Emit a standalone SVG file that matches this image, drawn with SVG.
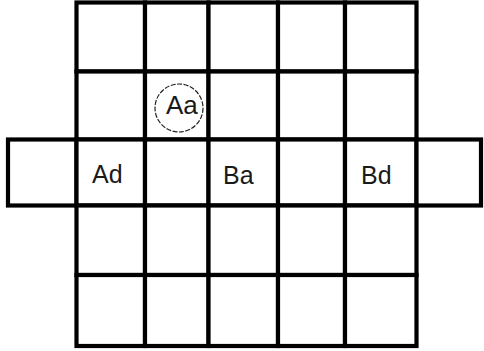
<svg xmlns="http://www.w3.org/2000/svg" width="484" height="351" viewBox="0 0 484 351">
<style>
.c{fill:#fff;stroke:#000;stroke-width:4.2}
.t{font-family:"Liberation Sans",Arial,sans-serif;font-size:25px;fill:#1a1a1a}
.ring{fill:none;stroke:#222;stroke-width:1.2;stroke-dasharray:5 1.5}
</style>
<rect width="484" height="351" fill="#fff"/>
<g id="r1c1"><rect class="c" x="76.5" y="2.5" width="68.5" height="69"/></g>
<g id="r1c2"><rect class="c" x="145" y="2.5" width="63.5" height="69"/></g>
<g id="r1c3"><rect class="c" x="208.5" y="2.5" width="69.5" height="69"/></g>
<g id="r1c4"><rect class="c" x="278" y="2.5" width="67" height="69"/></g>
<g id="r1c5"><rect class="c" x="345" y="2.5" width="71.5" height="69"/></g>
<g id="r2c1"><rect class="c" x="76.5" y="71.5" width="68.5" height="68"/></g>
<g id="r2c2"><rect class="c" x="145" y="71.5" width="63.5" height="68"/>
<circle class="ring" cx="179" cy="108" r="24"/>
<text class="t" x="166" y="114" style="font-size:26px">Aa</text></g>
<g id="r2c3"><rect class="c" x="208.5" y="71.5" width="69.5" height="68"/></g>
<g id="r2c4"><rect class="c" x="278" y="71.5" width="67" height="68"/></g>
<g id="r2c5"><rect class="c" x="345" y="71.5" width="71.5" height="68"/></g>
<g id="r3c0"><rect class="c" x="8" y="139.5" width="68.5" height="66"/></g>
<g id="r3c1"><rect class="c" x="76.5" y="139.5" width="68.5" height="66"/>
<text class="t" x="92" y="183">Ad</text></g>
<g id="r3c2"><rect class="c" x="145" y="139.5" width="63.5" height="66"/></g>
<g id="r3c3"><rect class="c" x="208.5" y="139.5" width="69.5" height="66"/>
<text class="t" x="223" y="184">Ba</text></g>
<g id="r3c4"><rect class="c" x="278" y="139.5" width="67" height="66"/></g>
<g id="r3c5"><rect class="c" x="345" y="139.5" width="71.5" height="66"/>
<text class="t" x="361" y="184">Bd</text></g>
<g id="r3c6"><rect class="c" x="416.5" y="139.5" width="64.5" height="66"/></g>
<g id="r4c1"><rect class="c" x="76.5" y="205.5" width="68.5" height="69.5"/></g>
<g id="r4c2"><rect class="c" x="145" y="205.5" width="63.5" height="69.5"/></g>
<g id="r4c3"><rect class="c" x="208.5" y="205.5" width="69.5" height="69.5"/></g>
<g id="r4c4"><rect class="c" x="278" y="205.5" width="67" height="69.5"/></g>
<g id="r4c5"><rect class="c" x="345" y="205.5" width="71.5" height="69.5"/></g>
<g id="r5c1"><rect class="c" x="76.5" y="275" width="68.5" height="71"/></g>
<g id="r5c2"><rect class="c" x="145" y="275" width="63.5" height="71"/></g>
<g id="r5c3"><rect class="c" x="208.5" y="275" width="69.5" height="71"/></g>
<g id="r5c4"><rect class="c" x="278" y="275" width="67" height="71"/></g>
<g id="r5c5"><rect class="c" x="345" y="275" width="71.5" height="71"/></g>
<g id="connectors"></g>
</svg>
